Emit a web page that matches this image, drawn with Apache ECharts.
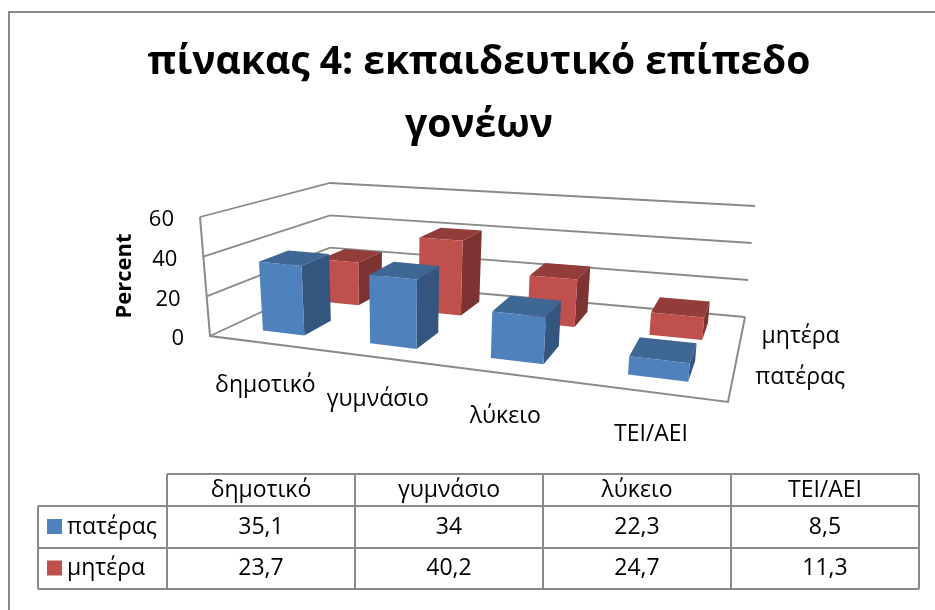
<!DOCTYPE html>
<html>
<head>
<meta charset="utf-8">
<style>html,body{margin:0;background:#fff}#main{width:935px;height:610px}</style>
<script src="https://cdn.jsdelivr.net/npm/echarts@6/dist/echarts.min.js"></script>
</head>
<body>
<div id="main"></div>
<script>
const titleText = 'πίνακας 4: εκπαιδευτικό επίπεδο\nγονέων';
const categories = ['δημοτικό', 'γυμνάσιο', 'λύκειο', 'ΤΕΙ/ΑΕΙ'];
const father = [35.1, 34, 22.3, 8.5];
const mother = [23.7, 40.2, 24.7, 11.3];
const fatherName = 'πατέρας';
const motherName = 'μητέρα';
const yTicks = [0, 20, 40, 60];

const FONT = '"Open Sans", "Noto Sans", sans-serif';
const LINE = '#8a8a8a';
const BLUE = {front: '#4f81bd', side: '#34557e', top: '#3e6794'};
const RED = {front: '#c0504d', side: '#7c3331', top: '#933d3a'};

// perspective box: floor quad, and how far each floor corner rises at the top of the axis
const floorQuad = [[210, 336], [728, 402], [745, 317], [330, 280]];
const riseQuad = [[-10, -119], [13, -135], [10, -111], [0, -97]];

function quadMap(q) {
  const [p0, p1, p2, p3] = q;
  const sx = p0[0] - p1[0] + p2[0] - p3[0], sy = p0[1] - p1[1] + p2[1] - p3[1];
  const dx1 = p1[0] - p2[0], dx2 = p3[0] - p2[0], dy1 = p1[1] - p2[1], dy2 = p3[1] - p2[1];
  const den = dx1 * dy2 - dx2 * dy1;
  const g = (sx * dy2 - dx2 * sy) / den, h = (dx1 * sy - sx * dy1) / den;
  const a = p1[0] - p0[0] + g * p1[0], b = p3[0] - p0[0] + h * p3[0];
  const d = p1[1] - p0[1] + g * p1[1], e = p3[1] - p0[1] + h * p3[1];
  return function (u, v) {
    const w = g * u + h * v + 1;
    return [(a * u + b * v + p0[0]) / w, (d * u + e * v + p0[1]) / w];
  };
}
const floorMap = quadMap(floorQuad);

// t along categories, d into the depth, k = 0..1 of the value axis
function project(t, d, k) {
  const a = floorMap(t, d);
  const r = [0, 1].map(i => riseQuad[0][i] * (1 - t) * (1 - d) + riseQuad[1][i] * t * (1 - d)
    + riseQuad[2][i] * t * d + riseQuad[3][i] * (1 - t) * d);
  return [a[0] + r[0] * k, a[1] + r[1] * k];
}
// turn axis coords of the hidden grid into box fractions
function boxOf(params, api) {
  const cs = params.coordSys;
  const c = api.coord([api.value(0), api.value(1)]);
  return {t: (c[0] - cs.x) / cs.width, k: (cs.y + cs.height - c[1]) / cs.height, band: api.size([1, 0])[0] / cs.width};
}

function barRender(colors, d0, d1) {
  return function (params, api) {
    const b = boxOf(params, api);
    const w = b.band * 0.2;
    const t0 = b.t + 0.007 - w, t1 = b.t + 0.007 + w;
    const p = project;
    const face = (pts, fill) => ({type: 'polygon', shape: {points: pts}, style: {fill: fill, lineJoin: 'round'}});
    return {
      type: 'group',
      children: [
        face([p(t0, d0, b.k), p(t1, d0, b.k), p(t1, d1, b.k), p(t0, d1, b.k)], colors.top),
        face([p(t1, d0, 0), p(t1, d1, 0), p(t1, d1, b.k), p(t1, d0, b.k)], colors.side),
        face([p(t0, d0, 0), p(t1, d0, 0), p(t1, d0, b.k), p(t0, d0, b.k)], colors.front)
      ]
    };
  };
}

function wallRender(params, api) {
  const b = boxOf(params, api);
  return {
    type: 'polyline',
    shape: {points: [project(0, 0, b.k), project(0, 1, b.k), project(1, 1, b.k)]},
    style: {stroke: LINE, lineWidth: 1.8, fill: null}
  };
}
function frameRender() {
  return {
    type: 'polyline',
    shape: {points: [project(0, 0, 1), project(0, 0, 0), project(1, 0, 0), project(1, 1, 0)]},
    style: {stroke: LINE, lineWidth: 2, fill: null}
  };
}
function text(str, pos, size) {
  return {type: 'text', style: {text: str, x: pos[0], y: pos[1], fontSize: size, fontFamily: FONT, fill: '#000',
    align: 'center', verticalAlign: 'middle'}};
}
function tickLabelRender(params, api) {
  const b = boxOf(params, api);
  const p = project(0, 0, b.k);
  const t = text(String(api.value(1)), [p[0] - 26, p[1] + 3], 22);
  t.style.align = 'right';
  return t;
}
function catLabelRender(params, api) {
  const b = boxOf(params, api);
  const p = project(b.t, 0, 0);
  return text(categories[api.value(0)], [p[0] + 4, p[1] + 43], 23);
}
function depthLabelRender(name, d, dx) {
  return function () {
    const p = project(1, d, 0);
    return text(name, [p[0] + dx, p[1] + 2], 23);
  };
}

// data table
const tableX = [167, 355, 543, 731, 919];
const tableLeft = 38;
const tableY = [474, 506, 548, 589];
function tableGraphics() {
  const out = [];
  const line = (x1, y1, x2, y2) => out.push({type: 'line', shape: {x1, y1, x2, y2}, style: {stroke: LINE, lineWidth: 2}});
  line(tableX[0], tableY[0], tableX[4], tableY[0]);
  line(tableLeft, tableY[1], tableX[4], tableY[1]);
  line(tableLeft, tableY[2], tableX[4], tableY[2]);
  line(tableLeft, tableY[3], tableX[4], tableY[3]);
  line(tableLeft, tableY[1], tableLeft, tableY[3]);
  tableX.forEach(x => line(x, tableY[0], x, tableY[3]));
  const cell = (s, x, y, align) => out.push({type: 'text', style: {text: s, x: x, y: y, fontSize: 23, fontFamily: FONT, fill: '#000',
    align: align, verticalAlign: 'middle'}});
  const rows = [[fatherName, father, BLUE.front], [motherName, mother, RED.front]];
  categories.forEach((c, i) => cell(c, (tableX[i] + tableX[i + 1]) / 2, (tableY[0] + tableY[1]) / 2, 'center'));
  rows.forEach((r, j) => {
    const cy = (tableY[j + 1] + tableY[j + 2]) / 2;
    out.push({type: 'rect', shape: {x: 47, y: cy - 8, width: 15, height: 15}, style: {fill: r[2]}});
    cell(r[0], 67, cy, 'left');
    r[1].forEach((v, i) => cell(String(v).replace('.', ','), (tableX[i] + tableX[i + 1]) / 2, cy, 'center'));
  });
  return out;
}

let chartDom = document.getElementById('main');
let myChart = echarts.init(chartDom);

function customSeries(renderItem, data) {
  return {type: 'custom', renderItem: renderItem, data: data, silent: true, clip: false, encode: {x: 0, y: 1}};
}
const pairs = arr => arr.map((v, i) => [i, v]);
const tickData = yTicks.map(v => [0, v]);
const catData = categories.map((c, i) => [i, 0]);

let option = {
  animation: false,
  backgroundColor: '#fff',
  textStyle: {fontFamily: FONT},
  title: {
    text: titleText,
    left: 474,
    top: 26,
    textAlign: 'center',
    textStyle: {fontFamily: FONT, fontSize: 39, fontWeight: 'bold', lineHeight: 63, color: '#000'}
  },
  grid: {left: 190, top: 216, width: 540, height: 120},
  xAxis: {type: 'category', data: categories, axisLine: {show: false}, axisTick: {show: false}, axisLabel: {show: false}},
  yAxis: {
    type: 'value', min: 0, max: 60, interval: 20,
    name: 'Percent', nameLocation: 'middle', nameRotate: 90, nameGap: 54,
    nameTextStyle: {fontFamily: FONT, fontSize: 22, fontWeight: 'bold', color: '#000'},
    axisLine: {show: false}, axisTick: {show: false}, axisLabel: {show: false}, splitLine: {show: false}
  },
  graphic: [
    {type: 'rect', shape: {x: 9, y: 12, width: 940, height: 610}, style: {fill: 'none', stroke: LINE, lineWidth: 2}, silent: true},
    {type: 'group', children: tableGraphics()}
  ],
  series: [
    customSeries(wallRender, tickData),
    customSeries(frameRender, [tickData[0]]),
    customSeries(tickLabelRender, tickData),
    customSeries(catLabelRender, catData),
    customSeries(depthLabelRender(motherName, 0.75, 59), [tickData[0]]),
    customSeries(depthLabelRender(fatherName, 0.25, 67), [tickData[0]]),
    customSeries(barRender(RED, 0.62, 0.86), pairs(mother)),
    customSeries(barRender(BLUE, 0.14, 0.36), pairs(father))
  ]
};
myChart.setOption(option);
window.addEventListener('resize', () => {
  myChart.resize();
});
</script>
</body>
</html>
